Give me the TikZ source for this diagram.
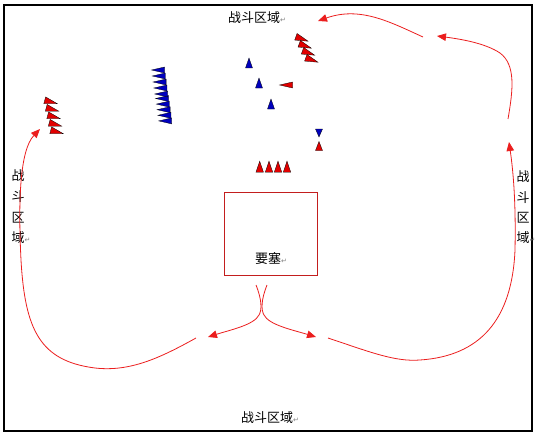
\documentclass[tikz,border=0pt]{standalone}
\usepackage{fontspec}
\newfontfamily\cjk{Noto Sans CJK SC}
\newfontfamily\simbolo{DejaVu Sans}
\usetikzlibrary{arrows.meta}
\definecolor{rojo}{RGB}{225,0,0}
\definecolor{azul}{RGB}{0,0,190}
\definecolor{linea}{RGB}{235,30,30}
\definecolor{borde}{RGB}{195,30,30}
\newcommand{\parrafo}{{\simbolo\fontsize{7}{7}\selectfont\color{gray}↵}}

\begin{document}
\begin{tikzpicture}[x=1pt, y=-1pt, >={Triangle[length=9pt, width=7.5pt]},
  texto/.style={font=\cjk\fontsize{13}{13}\selectfont, inner sep=0pt, anchor=west},
  flecha/.style={draw=linea, line width=0.8pt, ->},
  pics/unidad/.style n args={3}{code={
    \draw[fill=#1, draw=black, line width=0.3pt] (-#2/2,-#3/2) -- (#2/2,0) -- (-#2/2,#3/2) -- cycle;}}]
  \useasboundingbox (0,0) rectangle (538,436);
  % marco
  \draw[line width=1.2pt] (4,5) rectangle (532,431);
  % textos de zona
  \node[texto] (norte) at (228,18) {战斗区域\parrafo};
  \node[texto] (sur) at (241,418) {战斗区域\parrafo};
  \foreach \c/\y [count=\i] in {战/176, 斗/197, 区/218, 域\parrafo/238}
    \node[texto] (oeste\i) at (11.5,\y) {\c};
  \foreach \c/\y [count=\i] in {战/177, 斗/198, 区/218, 域\parrafo/238}
    \node[texto] (este\i) at (516.5,\y) {\c};
  % fortaleza
  \node[draw=borde, line width=0.8pt, minimum width=93, minimum height=83, inner sep=0] (fuerte) at (270.5,233.5) {};
  \node[texto] (nombre) at (255,259) {要塞\parrafo};
  % extremos de las rutas
  \coordinate (s1) at (256,285);
  \coordinate (t1) at (208,337);
  \coordinate (s2) at (267,285);
  \coordinate (t2) at (316,337);
  \coordinate (s3) at (196,338);
  \coordinate (t3) at (40,129);
  \coordinate (s4) at (328,338);
  \coordinate (t4) at (509,142);
  \coordinate (s5) at (508,119);
  \coordinate (t5) at (437,36);
  \coordinate (s6) at (423,37);
  \coordinate (t6) at (318,21);
  % salida de la fortaleza
  \draw[flecha] (s1) .. controls (262,300) and (262,310) .. (259,315)
                     .. controls (254,325) and (230,330) .. (t1);
  \draw[flecha] (s2) .. controls (261,300) and (261,310) .. (264,315)
                     .. controls (269,325) and (293,330) .. (t2);
  % lazo izquierdo
  \draw[flecha] (s3) .. controls (160,358) and (130,372) .. (95,368)
                     .. controls (40,361) and (25,330) .. (21,260)
                     .. controls (18,200) and (20,150) .. (t3);
  % lazo derecho
  \draw[flecha] (s4) .. controls (370,352) and (395,362) .. (420,360)
                     .. controls (480,356) and (512,320) .. (515,250)
                     .. controls (516,200) and (513,170) .. (t4);
  % esquina superior derecha
  \draw[flecha] (s5) .. controls (513,90) and (516,65) .. (500,53)
                     .. controls (485,43) and (460,39) .. (t5);
  \draw[flecha] (s6) .. controls (390,22) and (360,6) .. (t6);
  % unidades rojas, izquierda
  \foreach \i in {0,...,4}
    \pic[rotate=-15] at (51+1.5*\i,102+7.5*\i) {unidad={rojo}{13}{7}};
  % unidades rojas, arriba
  \foreach \i in {0,...,3}
    \pic[rotate=-20] at (302+3.3*\i,39+7*\i) {unidad={rojo}{13}{7}};
  % unidades azules en columna
  \foreach \i in {0,...,4} {
    \pic[rotate=180] at (158+0.8*\i,70+6*\i) {unidad={azul}{13}{6}};
    \pic[rotate=180] at (162+0.8*\i,98.5+5.6*\i) {unidad={azul}{13}{6}};
  }
  % unidades azules sueltas
  \pic[rotate=90] at (249,63) {unidad={azul}{10}{7}};
  \pic[rotate=90] at (259,83) {unidad={azul}{10}{7}};
  \pic[rotate=90] at (271,104) {unidad={azul}{10}{7}};
  \pic[rotate=180] at (286,85) {unidad={rojo}{13}{6}};
  \pic[rotate=-90] at (319,133) {unidad={azul}{8}{7}};
  \pic[rotate=90] at (319,146) {unidad={rojo}{9}{7}};
  % unidades rojas frente a la fortaleza
  \foreach \x in {259.7,269,278,287}
    \pic[rotate=90] at (\x,166.7) {unidad={rojo}{11}{7.5}};
\end{tikzpicture}
\end{document}
